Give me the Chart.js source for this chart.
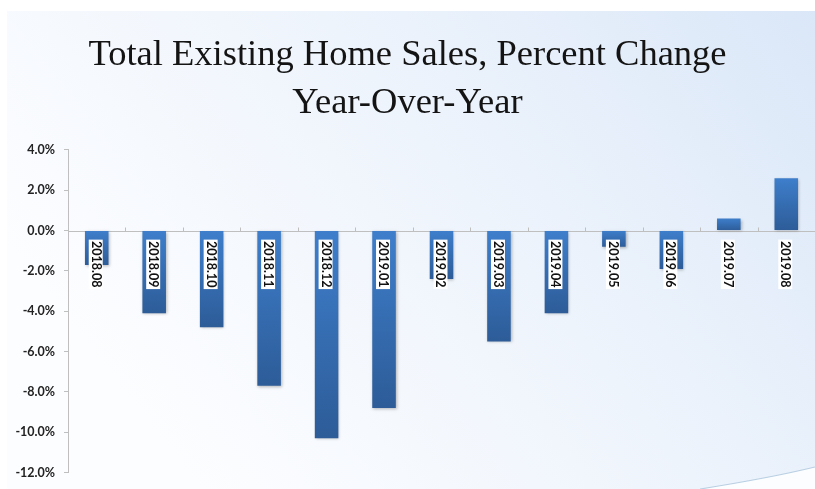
<!DOCTYPE html>
<html>
<head>
<meta charset="utf-8">
<script src="https://cdn.jsdelivr.net/npm/chart.js@4.4.1/dist/chart.umd.min.js"></script>
<style>
  html, body { margin: 0; padding: 0; background: #ffffff; }
  #wrap { width: 815px; height: 489px; position: relative; }
</style>
</head>
<body>
<div id="wrap"><canvas id="chart" width="815" height="489"></canvas></div>
<script>
// Year-over-year change in total existing home sales, by month
const months = ['2018.08', '2018.09', '2018.10', '2018.11', '2018.12', '2019.01', '2019.02',
                '2019.03', '2019.04', '2019.05', '2019.06', '2019.07', '2019.08'];
const yoyChange = [-1.7, -4.1, -4.8, -7.7, -10.3, -8.8, -2.4, -5.5, -4.1, -0.8, -1.9, 0.6, 2.6];
const titleLines = ['Total Existing Home Sales, Percent Change', 'Year-Over-Year'];
const yMin = -12, yMax = 4, yStep = 2;

const AXIS_GREY = '#bfbfbf';
const LABEL_FONT = 'bold 12.5px Lato';

// soft blue slide background with a white frame and a corner swoosh
const backdrop = {
  id: 'backdrop',
  beforeDraw(chart) {
    const { ctx, width, height } = chart;
    ctx.save();
    ctx.fillStyle = '#ffffff';
    ctx.fillRect(0, 0, width, height);
    const g = ctx.createLinearGradient(width, 0, 200, height);
    g.addColorStop(0, '#dae7f8');
    g.addColorStop(0.5, '#eef4fc');
    g.addColorStop(1, '#fcfdff');
    ctx.fillStyle = g;
    ctx.fillRect(7, 11, width - 7, height - 11);
    // white sweep in the lower right corner
    ctx.beginPath();
    ctx.moveTo(700, height);
    ctx.quadraticCurveTo(770, 478, width, 467);
    ctx.lineTo(width, height);
    ctx.closePath();
    ctx.fillStyle = '#fbfdff';
    ctx.fill();
    ctx.beginPath();
    ctx.moveTo(700, height);
    ctx.quadraticCurveTo(770, 478, width, 467);
    ctx.strokeStyle = '#b9cfe2';
    ctx.lineWidth = 1.2;
    ctx.stroke();
    ctx.restore();
  }
};

// zero line with upward category ticks
const zeroAxis = {
  id: 'zeroAxis',
  beforeDatasetsDraw(chart) {
    const { ctx, chartArea, scales: { y } } = chart;
    const base = Math.round(y.getPixelForValue(0)) + 0.5;
    ctx.save();
    ctx.strokeStyle = AXIS_GREY;
    ctx.lineWidth = 1;
    ctx.beginPath();
    ctx.moveTo(chartArea.left, base);
    ctx.lineTo(chartArea.right, base);
    const step = (chartArea.right - chartArea.left) / months.length;
    for (let i = 1; i <= months.length; i++) {
      const px = Math.round(chartArea.left + i * step) + 0.5;
      ctx.moveTo(px, base);
      ctx.lineTo(px, base - 4);
    }
    ctx.stroke();
    ctx.restore();
  },
  // month labels, rotated and boxed in white, just under the zero line
  afterDatasetsDraw(chart) {
    const { ctx, scales: { x, y } } = chart;
    const base = y.getPixelForValue(0);
    ctx.save();
    ctx.font = LABEL_FONT;
    months.forEach((m, i) => {
      const cx = x.getPixelForValue(i) - 1;
      const w = ctx.measureText(m).width;
      const top = base + 9;
      ctx.fillStyle = '#ffffff';
      ctx.fillRect(cx - 7, top, 14, w + 3);
      ctx.save();
      ctx.translate(cx, top + 1.5);
      ctx.rotate(Math.PI / 2);
      ctx.fillStyle = '#111111';
      ctx.textAlign = 'left';
      ctx.textBaseline = 'middle';
      ctx.fillText(m, 0, 0);
      ctx.restore();
    });
    ctx.restore();
  }
};

// soft drop shadow under the bars
const barShadow = {
  id: 'barShadow',
  beforeDatasetDraw(chart) {
    const ctx = chart.ctx;
    ctx.save();
    ctx.shadowColor = 'rgba(0,0,0,0.28)';
    ctx.shadowBlur = 3;
    ctx.shadowOffsetX = 1;
    ctx.shadowOffsetY = 1;
  },
  afterDatasetDraw(chart) {
    chart.ctx.restore();
  }
};

function barFill(context) {
  const chart = context.chart;
  if (!chart.chartArea) return '#3a74bd';
  const y = chart.scales.y;
  const v = context.raw;
  const y0 = y.getPixelForValue(Math.max(v, 0));
  const y1 = y.getPixelForValue(Math.min(v, 0));
  const g = chart.ctx.createLinearGradient(0, y0, 0, y1 + 0.01);
  g.addColorStop(0, '#3e7ecb');
  g.addColorStop(1, '#2d5c98');
  return g;
}

new Chart(document.getElementById('chart'), {
  type: 'bar',
  data: {
    labels: months,
    datasets: [{
      data: yoyChange,
      backgroundColor: barFill,
      borderWidth: 0,
      categoryPercentage: 1,
      barPercentage: 0.41
    }]
  },
  options: {
    responsive: false,
    animation: false,
    events: [],
    layout: { padding: { left: 0, right: 0, top: 0, bottom: 15 } },
    plugins: {
      legend: { display: false },
      tooltip: { enabled: false },
      title: {
        display: true,
        text: titleLines,
        color: '#141414',
        font: { family: "'Liberation Serif', 'Times New Roman', serif", size: 36.5, weight: 'normal', lineHeight: 1.315 },
        padding: { top: 31.5, bottom: 22.5 }
      }
    },
    scales: {
      x: { display: false },
      y: {
        min: yMin,
        max: yMax,
        afterFit(scale) { scale.width = 68; },
        border: { display: true, color: AXIS_GREY, width: 1 },
        grid: { drawOnChartArea: false, drawTicks: true, tickLength: 4, color: AXIS_GREY },
        ticks: {
          stepSize: yStep,
          padding: 9,
          color: '#222222',
          font: { family: 'Lato', size: 12.5, weight: 'bold' },
          callback: v => v.toFixed(1) + '%'
        }
      }
    }
  },
  plugins: [backdrop, zeroAxis, barShadow]
});
</script>
</body>
</html>
